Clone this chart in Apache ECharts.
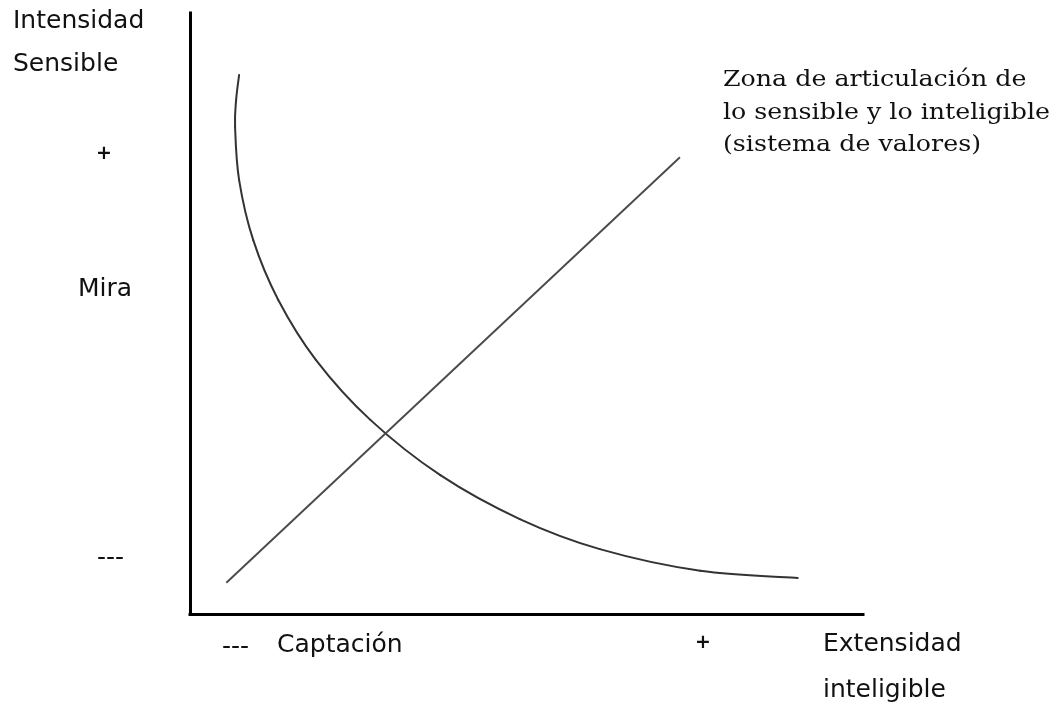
<!DOCTYPE html>
<html>
<head>
<meta charset="utf-8">
<script src="https://cdn.jsdelivr.net/npm/echarts@6/dist/echarts.min.js"></script>
<style>
html,body{margin:0;padding:0;background:#fff;}
#main{width:1059px;height:705px;}
</style>
</head>
<body>
<div id="main"></div>
<script>
// Curve values, in axis units 0..100
const curveX = [7.3, 6.85, 6.7, 7.3, 9.4, 13.1, 18.7, 26.8, 37.2, 49.0, 60.9, 75.8, 90.3];
const curveY = [89.7, 85.5, 81.0, 72.2, 62.2, 52.3, 42.3, 32.3, 23.1, 15.8, 10.8, 7.2, 6.0];
// Straight line values
const lineX = [5.4, 72.8];
const lineY = [5.2, 76.0];
// Text labels
const yTitle = ['Intensidad', 'Sensible'];
const yMarks = ['+', 'Mira', '---'];
const xMarks = ['---', 'Captación', '+'];
const xTitle = ['Extensidad', 'inteligible'];
const noteLines = ['Zona de articulación de', 'lo sensible y lo inteligible', '(sistema de valores)'];

const zip = (a, b) => a.map((v, i) => [v, b[i]]);

const sans = '25px "DejaVu Sans"';
const serif = '22px "DejaVu Serif"';
const plusFont = 'bold 19px "DejaVu Sans"';
const txt = (text, x, y, font, align, extra) => Object.assign({
  type: 'text', x: x, y: y,
  style: { text: text, x: 0, y: 0, font: font, fill: '#111', textAlign: align || 'left', textVerticalAlign: 'middle' }
}, extra || {});

// Smooth curve through the data points (Catmull-Rom), drawn through the axis scales
function renderCurve(params, api) {
  if (params.dataIndex !== 0) return null;
  const P = curveX.map((x, i) => api.coord([x, curveY[i]]));
  const n = P.length;
  const children = [];
  for (let i = 0; i < n - 1; i++) {
    const p0 = P[Math.max(0, i - 1)], p1 = P[i], p2 = P[i + 1], p3 = P[Math.min(n - 1, i + 2)];
    children.push({
      type: 'bezierCurve',
      shape: {
        x1: p1[0], y1: p1[1], x2: p2[0], y2: p2[1],
        cpx1: p1[0] + (p2[0] - p0[0]) / 6, cpy1: p1[1] + (p2[1] - p0[1]) / 6,
        cpx2: p2[0] - (p3[0] - p1[0]) / 6, cpy2: p2[1] - (p3[1] - p1[1]) / 6
      },
      style: { stroke: '#333', lineWidth: 2, fill: null, lineCap: 'round' }
    });
  }
  return { type: 'group', children: children };
}

const chart = echarts.init(document.getElementById('main'));
chart.setOption({
  animation: false,
  backgroundColor: '#fff',
  grid: { left: 190, top: 13, right: 196, bottom: 91 },
  xAxis: {
    type: 'value', min: 0, max: 100,
    axisLine: { show: true, lineStyle: { color: '#000', width: 3, cap: 'square' } },
    axisTick: { show: false }, axisLabel: { show: false }, splitLine: { show: false }
  },
  yAxis: {
    type: 'value', min: 0, max: 100,
    axisLine: { show: true, lineStyle: { color: '#000', width: 3, cap: 'square' } },
    axisTick: { show: false }, axisLabel: { show: false }, splitLine: { show: false }
  },
  series: [
    {
      type: 'custom', data: zip(curveX, curveY), renderItem: renderCurve, silent: true,
      encode: { x: 0, y: 1 }, clip: false
    },
    {
      type: 'line', data: zip(lineX, lineY), symbol: 'none',
      lineStyle: { color: '#4a4a4a', width: 1.9 }, silent: true
    }
  ],
  graphic: [
    txt(yTitle[0], 13, 21.6, sans),
    txt(yTitle[1], 13, 64.6, sans),
    txt(yMarks[0], 104, 154, plusFont, 'center'),
    txt(yMarks[1], 78, 289.6, sans),
    txt(yMarks[2], 97, 558, sans),
    txt(xMarks[0], 222, 647, sans),
    txt(xMarks[1], 277, 645.6, sans),
    txt(xMarks[2], 703, 643, plusFont, 'center'),
    txt(xTitle[0], 823, 644.6, sans),
    txt(xTitle[1], 823, 690.6, sans),
    txt(noteLines[0], 723, 80.5, serif, 'left', { scaleX: 1.15 }),
    txt(noteLines[1], 723, 113.5, serif, 'left', { scaleX: 1.15 }),
    txt(noteLines[2], 723, 145.5, serif, 'left', { scaleX: 1.15 })
  ]
});
</script>
</body>
</html>
